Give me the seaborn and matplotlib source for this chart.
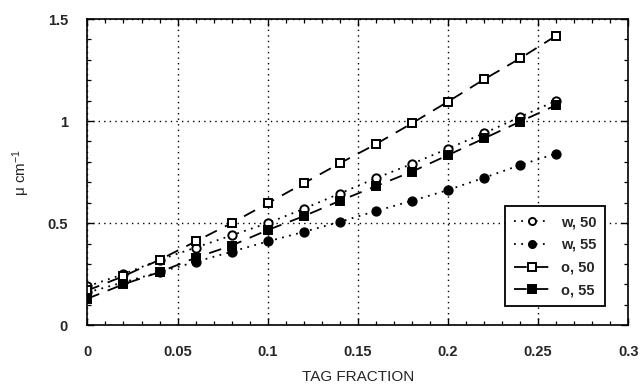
import numpy as np
import pandas as pd
import matplotlib
matplotlib.use("Agg")
import matplotlib.pyplot as plt
import seaborn as sns
from matplotlib.ticker import MultipleLocator

tag_fraction = [0.0, 0.02, 0.04, 0.06, 0.08, 0.10, 0.12, 0.14, 0.16, 0.18, 0.20, 0.22, 0.24, 0.26]
w_50 = [0.19, 0.25, 0.32, 0.38, 0.44, 0.50, 0.57, 0.645, 0.72, 0.79, 0.865, 0.94, 1.02, 1.10]
w_55 = [0.16, 0.21, 0.26, 0.31, 0.36, 0.41, 0.457, 0.506, 0.559, 0.609, 0.662, 0.722, 0.784, 0.841]
o_50 = [0.17, 0.24, 0.32, 0.41, 0.50, 0.597, 0.695, 0.793, 0.887, 0.989, 1.095, 1.204, 1.307, 1.418]
o_55 = [0.13, 0.20, 0.26, 0.33, 0.39, 0.466, 0.534, 0.609, 0.681, 0.752, 0.833, 0.915, 0.997, 1.078]

series_labels = ["w, 50", "w, 55", "o, 50", "o, 55"]
series_values = [w_50, w_55, o_50, o_55]

x_ticks = [0, 0.05, 0.1, 0.15, 0.2, 0.25, 0.3]
x_tick_labels = ["0", "0.05", "0.1", "0.15", "0.2", "0.25", "0.3"]
y_ticks = [0, 0.5, 1, 1.5]
y_tick_labels = ["0", "0.5", "1", "1.5"]

sns.set_style("ticks")
plt.rcParams["font.family"] = ["Liberation Sans", "DejaVu Sans"]
plt.rcParams["font.weight"] = "bold"
plt.rcParams["mathtext.default"] = "regular"

fig = plt.figure(figsize=(6.43, 3.88), dpi=100)
ax = fig.add_axes([0.136, 0.162, 0.841, 0.789])

styles = {
    "w, 50": dict(marker="o", ls=(0, (1, 3)), mfc="white"),
    "w, 55": dict(marker="o", ls=(0, (1, 3)), mfc="black"),
    "o, 50": dict(marker="s", ls=(0, (7, 5)), mfc="white"),
    "o, 55": dict(marker="s", ls=(0, (7, 5)), mfc="black"),
}

df = pd.DataFrame({"x": tag_fraction * 4,
                   "y": sum(series_values, []),
                   "series": np.repeat(series_labels, len(tag_fraction))})

for lab in series_labels:
    st = styles[lab]
    sub = df[df["series"] == lab]
    sns.lineplot(data=sub, x="x", y="y", ax=ax, color="black",
                 marker=st["marker"], markersize=6, markerfacecolor=st["mfc"],
                 markeredgecolor="black", markeredgewidth=1.4,
                 linestyle=st["ls"], linewidth=1.3, label=lab)

ax.set_xlim(0, 0.3)
ax.set_ylim(0, 1.5)
ax.set_xticks(x_ticks)
ax.set_xticklabels(x_tick_labels)
ax.set_yticks(y_ticks)
ax.set_yticklabels(y_tick_labels)
ax.xaxis.set_minor_locator(MultipleLocator(0.01))
ax.yaxis.set_minor_locator(MultipleLocator(0.1))
ax.tick_params(which="both", direction="in", top=True, right=True, color="black")
ax.tick_params(which="major", length=5, width=1, labelsize=10.5, pad=14)
ax.tick_params(which="minor", length=3, width=0.9)
ax.grid(True, which="major", color="black", linestyle=(0, (1, 3)), linewidth=1.0)
for s in ax.spines.values():
    s.set_color("black")
    s.set_linewidth(1.2)

ax.set_xlabel("TAG FRACTION", fontsize=11, fontweight="normal", labelpad=8)
ax.set_ylabel("μ cm$^{-1}$", fontsize=11, fontweight="normal", labelpad=11)

leg = ax.legend(loc="lower right", bbox_to_anchor=(0.957, 0.062), borderaxespad=0,
                frameon=True, fancybox=False, edgecolor="black", framealpha=1,
                fontsize=10.5, handlelength=2.4, borderpad=0.6, labelspacing=0.6,
                markerscale=0.85)
leg.get_frame().set_linewidth(1.3)

fig.savefig("out.png", dpi=100)
